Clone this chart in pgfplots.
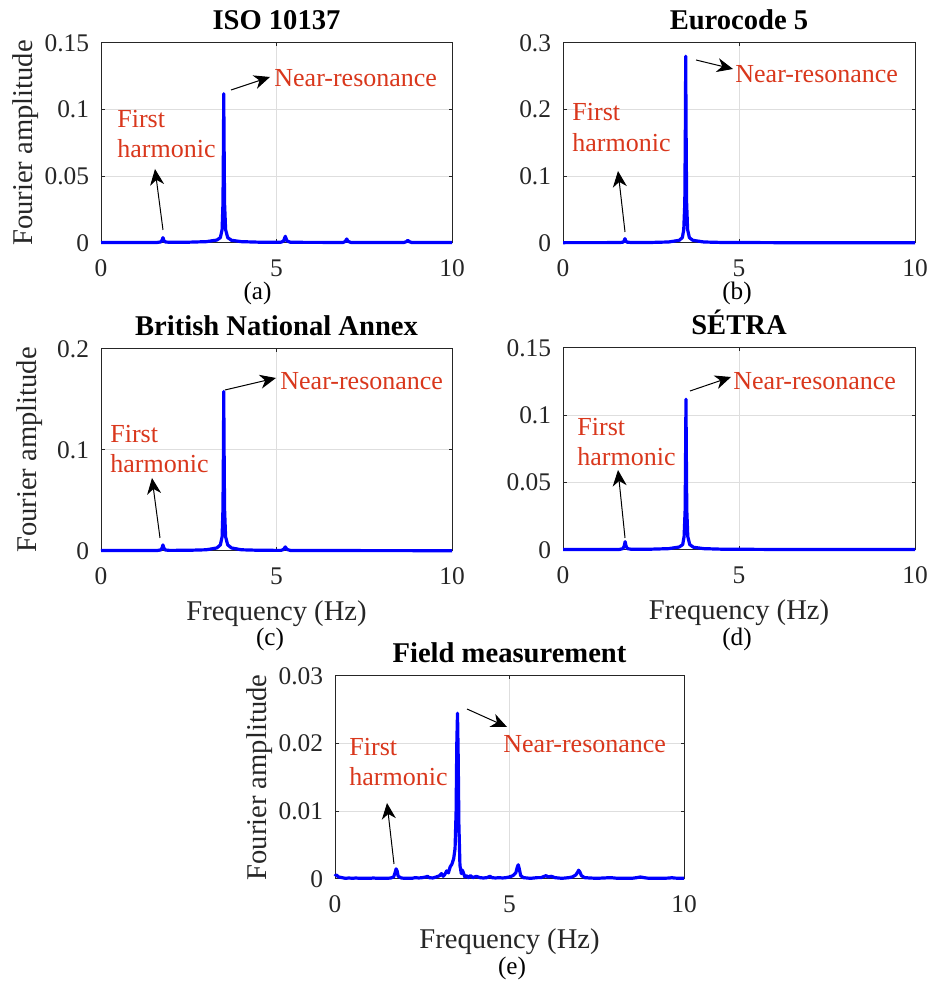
\documentclass[border=0pt]{standalone}
\usepackage{pgfplots}
\pgfplotsset{compat=1.18}
\usepackage{fontspec}
\setmainfont{Liberation Serif}
\usetikzlibrary{arrows.meta}
\definecolor{nred}{RGB}{217,55,28}
\definecolor{axgray}{RGB}{38,38,38}
\definecolor{gridgray}{RGB}{222,222,222}

\pgfplotsset{
  every axis title shift=0pt,
  base/.style={
    scale only axis, anchor=south west,
    xmin=0, xmax=10, ymin=0, xtick={0,5,10},
    grid=major, grid style={gridgray, line width=0.5pt},
    axis line style={axgray, line width=0.5pt},
    major tick style={axgray, line width=0.5pt},
    major tick length=1.75pt,
    tick align=inside,
    clip=false,
    /pgf/number format/assume math mode=true,
    scaled y ticks=false,
    ticklabel style={font=\fontsize{12.7}{14}\selectfont, text=axgray},
    yticklabel style={/pgf/number format/fixed, anchor=east, inner sep=0pt, xshift=-5.8pt},
    xticklabel style={anchor=base, inner sep=0pt, yshift=-16.8pt},
    label style={font=\fontsize{14.3}{16}\selectfont, text=axgray},
    title style={font=\bfseries\fontsize{14.3}{16}\selectfont, anchor=base, at={(0.5,1)}, yshift=6.8pt, inner sep=0pt},
    xlabel style={at={(axis description cs:0.5,0)}, anchor=base, yshift=-34.8pt, inner sep=0pt},
  },
  curve/.style={blue, line width=1.6pt, line join=round, no markers},
}

\begin{document}
\begin{tikzpicture}[x=0.5pt,y=0.5pt]
\useasboundingbox (0,0) rectangle (932,983);

% (a) ISO 10137
\begin{axis}[base, at={(50.5pt,370pt)}, width=175.5pt, height=100pt,
  ymax=0.15, ytick={0,0.05,0.1,0.15}, title={ISO 10137},
  ylabel={Fourier amplitude},
  ylabel style={at={(axis description cs:-0.194,0.5)}, anchor=base, inner sep=0pt}]
\addplot[curve] coordinates {
(0,0.0003) (1.6,0.0004) (1.70,0.0008) (1.74,0.002) (1.765,0.004) (1.79,0.002) (1.83,0.0008) (1.95,0.0005)
(2.5,0.0006) (3.0,0.0010) (3.3,0.0022) (3.4,0.004) (3.45,0.010) (3.475,0.030) (3.49,0.080) (3.497,0.112)
(3.505,0.080) (3.52,0.030) (3.55,0.010) (3.61,0.004) (3.72,0.002) (4.0,0.0010) (4.5,0.0006)
(5.13,0.0006) (5.2,0.0015) (5.25,0.005) (5.30,0.0015) (5.4,0.0005) (6.9,0.0004) (6.96,0.0012) (7.0,0.003)
(7.04,0.0012) (7.12,0.0004) (8.62,0.0003) (8.70,0.001) (8.74,0.002) (8.78,0.001) (8.86,0.0003) (10,0.0003)
};
\end{axis}

% (b) Eurocode 5
\begin{axis}[base, at={(281.5pt,370pt)}, width=176pt, height=100pt,
  ymax=0.3, ytick={0,0.1,0.2,0.3}, title={Eurocode 5}]
\addplot[curve] coordinates {
(0,0.0005) (1.6,0.0006) (1.70,0.0012) (1.735,0.003) (1.76,0.0065) (1.785,0.003) (1.82,0.0012) (1.95,0.0007)
(2.5,0.0008) (3.0,0.0015) (3.3,0.004) (3.39,0.008) (3.43,0.02) (3.46,0.06) (3.477,0.18) (3.486,0.28)
(3.495,0.18) (3.512,0.06) (3.54,0.02) (3.59,0.008) (3.69,0.004) (4.0,0.0015) (4.5,0.0008) (6,0.0005) (10,0.0004)
};
\end{axis}

% (c) British National Annex
\begin{axis}[base, at={(50.5pt,216pt)}, width=175.5pt, height=101pt,
  ymax=0.2, ytick={0,0.1,0.2}, title={British National Annex},
  xlabel={Frequency (Hz)}, ylabel={Fourier amplitude},
  ylabel style={at={(axis description cs:-0.183,0.5)}, anchor=base, inner sep=0pt}]
\addplot[curve] coordinates {
(0,0.0004) (1.6,0.0005) (1.70,0.001) (1.74,0.003) (1.765,0.006) (1.79,0.003) (1.83,0.001) (1.95,0.0006)
(2.5,0.0007) (3.0,0.0012) (3.3,0.003) (3.4,0.006) (3.45,0.014) (3.475,0.042) (3.49,0.11) (3.497,0.158)
(3.505,0.11) (3.52,0.042) (3.55,0.014) (3.61,0.006) (3.72,0.003) (4.0,0.0012) (4.5,0.0007)
(5.13,0.0006) (5.2,0.0015) (5.25,0.004) (5.30,0.0015) (5.4,0.0005) (7,0.0004) (10,0.0003)
};
\end{axis}

% (d) SETRA
\begin{axis}[base, at={(281.5pt,216.5pt)}, width=176pt, height=101pt,
  ymax=0.15, ytick={0,0.05,0.1,0.15}, title={SÉTRA},
  xlabel={Frequency (Hz)}]
\addplot[curve] coordinates {
(0,0.0003) (1.6,0.0004) (1.70,0.001) (1.74,0.003) (1.765,0.0062) (1.79,0.003) (1.83,0.001) (1.95,0.0005)
(2.5,0.0006) (3.0,0.0010) (3.3,0.0022) (3.4,0.004) (3.44,0.010) (3.47,0.030) (3.485,0.080) (3.493,0.112)
(3.501,0.080) (3.516,0.030) (3.545,0.010) (3.60,0.004) (3.71,0.002) (4.0,0.0010) (4.5,0.0006) (6,0.0004) (10,0.0003)
};
\end{axis}

% (e) Field measurement
\begin{axis}[base, at={(167.5pt,52pt)}, width=174.5pt, height=101.5pt,
  ymax=0.03, ytick={0,0.01,0.02,0.03}, title={Field measurement},
  xlabel={Frequency (Hz)}, ylabel={Fourier amplitude},
  ylabel style={at={(axis description cs:-0.195,0.5)}, anchor=base, inner sep=0pt}]
\addplot[curve] coordinates {
(0.00,0.0004) (0.03,0.0006) (0.06,0.0005) (0.10,0.0003) (0.2,0.0002) (0.3,0.0001) (0.4,0.00015) (0.5,0.0001)
(0.6,0.00015) (0.7,0.0001) (0.8,0.0001) (0.9,0.00012) (1.0,0.0001) (1.1,0.00015) (1.2,0.0001) (1.3,0.0001)
(1.4,0.00012) (1.5,0.0001) (1.6,0.00015) (1.68,0.0003) (1.72,0.0009) (1.75,0.0015) (1.78,0.0012) (1.81,0.0004)
(1.9,0.00015) (2.0,0.0001) (2.1,0.00012) (2.2,0.0001) (2.3,0.0002) (2.4,0.00015) (2.5,0.0002) (2.6,0.0003)
(2.65,0.0004) (2.7,0.0002) (2.8,0.00015) (2.9,0.0003) (3.0,0.0005) (3.05,0.0008) (3.1,0.0004) (3.15,0.0007)
(3.2,0.0012) (3.25,0.0009) (3.3,0.0018) (3.35,0.0022) (3.4,0.0030) (3.44,0.0045) (3.47,0.010) (3.49,0.020)
(3.51,0.0245) (3.53,0.018) (3.55,0.008) (3.58,0.002) (3.62,0.0008) (3.65,0.0013) (3.68,0.0009) (3.72,0.0003)
(3.77,0.0005) (3.82,0.0002) (3.88,0.0005) (3.95,0.0002) (4.05,0.0004) (4.15,0.0002) (4.25,0.00015) (4.35,0.0002)
(4.44,0.0004) (4.5,0.0002) (4.6,0.00015) (4.7,0.0002) (4.8,0.00015) (4.9,0.0002) (5.0,0.0003) (5.1,0.0005)
(5.18,0.0009) (5.22,0.0017) (5.25,0.0021) (5.28,0.0015) (5.32,0.0005) (5.4,0.0002) (5.5,0.00015) (5.6,0.0001)
(5.7,0.00015) (5.8,0.0002) (5.9,0.0002) (6.0,0.0004) (6.05,0.0005) (6.1,0.0003) (6.2,0.0004) (6.3,0.0002)
(6.4,0.00015) (6.5,0.0001) (6.6,0.00015) (6.7,0.0002) (6.8,0.0003) (6.9,0.0006) (6.95,0.0010) (6.98,0.0013)
(7.02,0.0010) (7.06,0.0005) (7.15,0.0002) (7.3,0.00015) (7.5,0.0001) (7.7,0.00015) (7.9,0.0002) (8.1,0.0001)
(8.3,0.00012) (8.5,0.0001) (8.65,0.0002) (8.75,0.0003) (8.85,0.0002) (9.0,0.0001) (9.2,0.00012) (9.4,0.0001)
(9.6,0.00015) (9.65,0.0002) (9.7,0.00015) (9.85,0.0001) (10,0.0001)
};
\end{axis}

% annotations in image pixel coordinates
\begin{scope}[yshift=491.5pt, yscale=-1]
\tikzset{arr/.style={black, line width=0.5pt, -{Stealth[length=8pt,width=7pt,inset=2.5pt]}},
  ann/.style={anchor=base west, inner sep=0pt, text=nred, font=\fontsize{13}{15}\selectfont},
  sub/.style={anchor=center, inner sep=0pt, font=\fontsize{12.6}{14}\selectfont}}
% (a)
\draw[arr] (231,90) -- (270,77);
\node[ann] at (274,87) {Near-resonance};
\draw[arr] (163,230) -- (155,169);
\node[ann] at (117,128) {First};
\node[ann] at (117,158) {harmonic};
\node[sub] at (257.5,293) {(a)};
% (b)
\draw[arr] (696,60) -- (733,69);
\node[ann] at (735,83) {Near-resonance};
\draw[arr] (625,232) -- (618,171);
\node[ann] at (572,121) {First};
\node[ann] at (572,152) {harmonic};
\node[sub] at (737,293) {(b)};
% (c)
\draw[arr] (225,390) -- (276,378);
\node[ann] at (280,390) {Near-resonance};
\draw[arr] (160,538) -- (152,478);
\node[ann] at (110,443) {First};
\node[ann] at (110,473) {harmonic};
\node[sub] at (270,639) {(c)};
% (d)
\draw[arr] (690,391) -- (731,377);
\node[ann] at (733,390) {Near-resonance};
\draw[arr] (625,538) -- (618,470);
\node[ann] at (577,436) {First};
\node[ann] at (577,466) {harmonic};
\node[sub] at (737,639) {(d)};
% (e)
\draw[arr] (467,709) -- (507,727);
\node[ann] at (503,753) {Near-resonance};
\draw[arr] (394,864) -- (387,803);
\node[ann] at (349,756) {First};
\node[ann] at (349,786) {harmonic};
\node[sub] at (512,968.5) {(e)};
\end{scope}
\end{tikzpicture}
\end{document}
